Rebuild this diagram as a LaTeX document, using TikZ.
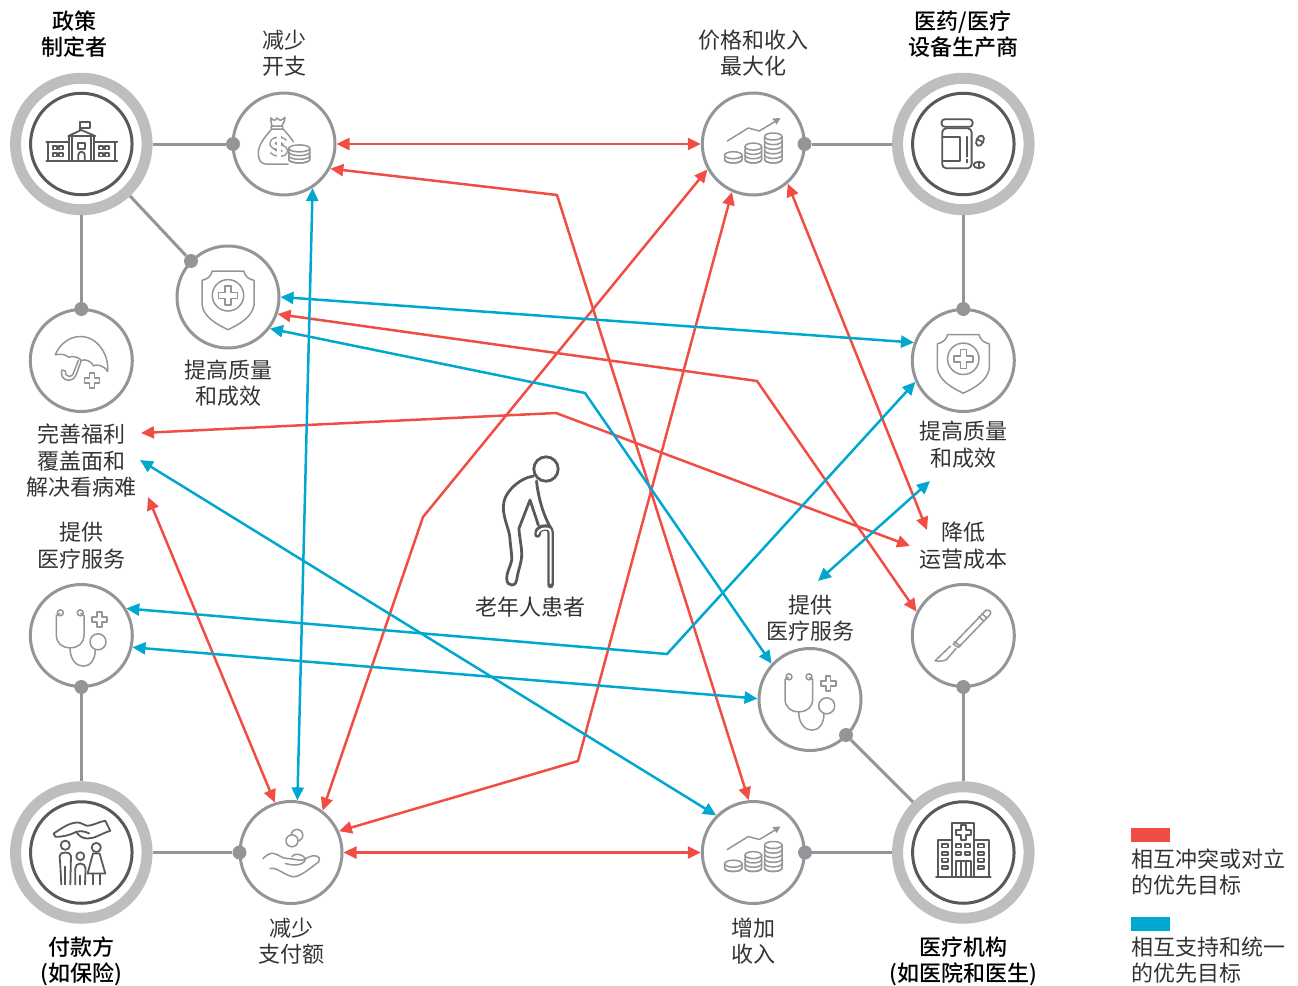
\documentclass[tikz,border=0pt]{standalone}
\usepackage{fontspec}
\setmainfont[BoldFont={Noto Sans CJK SC Medium}]{Noto Sans CJK SC}
\usetikzlibrary{arrows.meta,calc}
\definecolor{ringgrey}{HTML}{BCBEC0}
\definecolor{edgegrey}{HTML}{939598}
\definecolor{darkgrey}{HTML}{58595B}
\definecolor{inkgrey}{HTML}{333333}
\definecolor{conflictred}{HTML}{F04E45}
\definecolor{supportblue}{HTML}{00A7CF}
\tikzset{
  party/.style={circle,draw=ringgrey,line width=11pt,minimum size=131.5pt,inner sep=0pt},
  partycore/.style={circle,draw=darkgrey,line width=3pt,minimum size=101.5pt,inner sep=0pt},
  goal/.style={circle,draw=edgegrey,line width=3pt,minimum size=102pt,inner sep=0pt},
  joint/.style={circle,fill=edgegrey,minimum size=14pt,inner sep=0pt},
  link/.style={draw=edgegrey,line width=3pt},
  lbl/.style={align=center,inner sep=0pt,text=inkgrey,font=\fontsize{22}{26.5}\selectfont},
  boldlbl/.style={lbl,text=black,font=\fontsize{22}{26.5}\selectfont\bfseries},
  legendlbl/.style={lbl,align=left,anchor=west},
  conflict/.style={draw=conflictred,line width=2.5pt,{Triangle[length=13pt,width=12pt]}-{Triangle[length=13pt,width=12pt]}},
  support/.style={draw=supportblue,line width=2.5pt,{Triangle[length=13pt,width=12pt]}-{Triangle[length=13pt,width=12pt]}},
  lighticon/.style={draw=edgegrey,line width=1.5pt,line join=round,line cap=round},
  darkicon/.style={draw=darkgrey,line width=1.8pt,line join=round,line cap=round},
}
% a stack of coins: x, centre height of lowest coin, number of tiers, tier height, x radius
\newcommand{\coinstack}[5]{%
  \pgfmathsetmacro{\ctop}{#2-#3*#4}
  \fill[white] (#1-#5,#2) -- (#1-#5,\ctop) -- (#1+#5,\ctop) -- (#1+#5,#2) arc[start angle=0,end angle=180,x radius=#5,y radius=3.5] -- cycle;
  \draw (#1-#5,\ctop) -- (#1-#5,#2) arc[start angle=180,end angle=0,x radius=#5,y radius=3.5] -- (#1+#5,\ctop);
  \foreach \tier in {1,...,#3} {
    \pgfmathsetmacro{\cy}{#2-(\tier-1)*#4}
    \draw (#1-#5,\cy) arc[start angle=180,end angle=0,x radius=#5,y radius=3.5];
  }
  \draw[fill=white] (#1,\ctop) ellipse[x radius=#5,y radius=3.5];
}
% outlined plus sign: centre x, centre y, half arm length, half arm width
\newcommand{\plusmark}[4]{%
  \draw (#1-#4,#2-#3) -- (#1+#4,#2-#3) -- (#1+#4,#2-#4) -- (#1+#3,#2-#4) -- (#1+#3,#2+#4) -- (#1+#4,#2+#4) -- (#1+#4,#2+#3) -- (#1-#4,#2+#3) -- (#1-#4,#2+#4) -- (#1-#3,#2+#4) -- (#1-#3,#2-#4) -- (#1-#4,#2-#4) -- cycle;
}
% rising chart over three coin stacks
\newcommand{\growthicon}{%
  \coinstack{-20}{15.5}{1}{4.3}{8.7}
  \coinstack{0}{15.5}{3}{4.3}{8.3}
  \coinstack{20}{15.5}{5}{4.6}{8.7}
  \draw (-26,-3) -- (-5,-16) -- (6,-13) -- (26,-25);
  \fill[edgegrey] (27,-26) -- (19,-25.5) -- (23.5,-19.5) -- cycle;
}
\newcommand{\shieldicon}{%
  \draw (-15.7,-26) -- (15.7,-26) .. controls (16.5,-21) and (21,-17.5) .. (26,-16.7) -- (26,8)
    .. controls (24,20) and (12,27) .. (0,32.7) .. controls (-12,27) and (-24,20) .. (-26,8) -- (-26,-16.7)
    .. controls (-21,-17.5) and (-16.5,-21) .. cycle;
  \draw (0,-1.7) circle[radius=15.7];
  \plusmark{0}{-1.7}{9.5}{3}
}
\newcommand{\stethoicon}{%
  \draw (-21,-22.7) circle[radius=3];
  \draw (-1,-22.7) circle[radius=3];
  \draw (-21.5,-22) -- (-25,-20) -- (-25,-1) .. controls (-25,8) and (-19,12.3) .. (-11.3,12.3)
    .. controls (-3,12.3) and (2.7,8) .. (2.7,-1) -- (2.7,-20) -- (-0.5,-22);
  \draw (-11.3,12.3) .. controls (-11.3,24) and (-5,30.7) .. (2,30.7) .. controls (9,30.7) and (14,24) .. (14,14.3);
  \draw (16.7,6.3) circle[radius=8];
  \plusmark{18.3}{-16}{7.5}{2.4}
}
\begin{document}
\begin{tikzpicture}[x=1pt,y=-1pt]
\useasboundingbox (0,0) rectangle (1298,985);

% stakeholder rings
\node[party] (policy) at (81.3,144) {};
\node[partycore] (policycore) at (81.3,144) {};
\node[party] (pharma) at (963.3,144) {};
\node[partycore] (pharmacore) at (963.3,144) {};
\node[party] (payer) at (81.3,852.5) {};
\node[partycore] (payercore) at (81.3,852.5) {};
\node[party] (provider) at (963.3,852.5) {};
\node[partycore] (providercore) at (963.3,852.5) {};

% goal circles
\node[goal] (spend) at (284,144) {};
\node[goal] (maxrev) at (753.3,144) {};
\node[goal] (qualityL) at (228,297) {};
\node[goal] (coverage) at (81.3,360.5) {};
\node[goal] (careL) at (81.3,635.5) {};
\node[goal] (paycut) at (291,852.5) {};
\node[goal] (income) at (753.3,852.5) {};
\node[goal] (qualityR) at (963.3,360.5) {};
\node[goal] (scalpel) at (963.3,635.5) {};
\node[goal] (careR) at (810,699.5) {};

% joints on the goal circles
\node[joint] (jspend) at (233,144) {};
\node[joint] (jmaxrev) at (804.5,144) {};
\node[joint] (jqualityL) at (191,261) {};
\node[joint] (jcoverage) at (81.3,309) {};
\node[joint] (jqualityR) at (963.3,309) {};
\node[joint] (jcareL) at (81.3,687) {};
\node[joint] (jscalpel) at (963.3,687) {};
\node[joint] (jcareR) at (846,735) {};
\node[joint] (jpaycut) at (239.5,852.5) {};
\node[joint] (jincome) at (805,852.5) {};

% links from each stakeholder to its goals
\draw[link] (policy) -- (jspend);
\draw[link] (policy) -- (jqualityL);
\draw[link] (policy) -- (jcoverage);
\draw[link] (pharma) -- (jmaxrev);
\draw[link] (pharma) -- (jqualityR);
\draw[link] (payer) -- (jcareL);
\draw[link] (payer) -- (jpaycut);
\draw[link] (provider) -- (jincome);
\draw[link] (provider) -- (jscalpel);
\draw[link] (provider) -- (jcareR);

% labels
\node[boldlbl] (tpolicy) at (74,34) {政策\\制定者};
\node[boldlbl] (tpharma) at (963,34) {医药/医疗\\设备生产商};
\node[boldlbl] (tpayer) at (81,961.5) {付款方\\(如保险)};
\node[boldlbl] (tprovider) at (963,961.5) {医疗机构\\(如医院和医生)};
\node[lbl] (tspend) at (284,53) {减少\\开支};
\node[lbl] (tmaxrev) at (753.5,53) {价格和收入\\最大化};
\node[lbl] (tqualityL) at (228,383) {提高质量\\和成效};
\node[lbl] (tcoverage) at (81.5,461) {完善福利\\覆盖面和\\解决看病难};
\node[lbl] (tcareL) at (81.5,545.5) {提供\\医疗服务};
\node[lbl] (tpatient) at (530,607) {老年人患者};
\node[lbl] (tcareR) at (810.5,618) {提供\\医疗服务};
\node[lbl] (tqualityR) at (963.5,444.5) {提高质量\\和成效};
\node[lbl] (tcost) at (963.5,545.5) {降低\\运营成本};
\node[lbl] (tpaycut) at (291.5,941) {减少\\支付额};
\node[lbl] (tincome) at (753.5,941) {增加\\收入};

% legend
\node[fill=conflictred,minimum width=39pt,minimum height=14pt,inner sep=0pt,anchor=north west] (keyred) at (1131,828) {};
\node[fill=supportblue,minimum width=39pt,minimum height=14pt,inner sep=0pt,anchor=north west] (keyblue) at (1131,917) {};
\node[legendlbl] (tkeyred) at (1131,872) {相互冲突或对立\\的优先目标};
\node[legendlbl] (tkeyblue) at (1131,960) {相互支持和统一\\的优先目标};

% free ends beside the text labels
\coordinate (costA) at (927,530);
\coordinate (costB) at (910,546);
\coordinate (covA) at (141,433);
\coordinate (covB) at (140,460);
\coordinate (covC) at (148,497);
\coordinate (qualBelow) at (930,481);
\coordinate (careAbove) at (818,581);

% bends
\coordinate (b1) at (557,195);
\coordinate (b2) at (423,517);
\coordinate (b3) at (578,761);
\coordinate (b4) at (757,381);
\coordinate (b5) at (556,413);
\coordinate (b6) at (585,393);
\coordinate (b7) at (667,654);

% conflicting priorities
\draw[conflict] (spend.east) -- (maxrev.west);
\draw[conflict] (spend.-28.4) -- (b1) -- (income.95.4);
\draw[conflict] (maxrev.209.9) -- (b2) -- (paycut.53.3);
\draw[conflict] (maxrev.246) -- (b3) -- (paycut.24.2);
\draw[conflict] (maxrev.-49.4) -- (costA);
\draw[conflict] (qualityL.-19.8) -- (b4) -- (scalpel.153.4);
\draw[conflict] (covA) -- (b5) -- (costB);
\draw[conflict] (covC) -- (paycut.108.4);
\draw[conflict] (paycut.east) -- (income.west);

% aligned priorities
\draw[support] (spend.-57.2) -- (paycut.83.5);
\draw[support] (qualityL.east) -- (qualityR.160.2);
\draw[support] (qualityL.-37.5) -- (b6) -- (careR.137.2);
\draw[support] (careL.31.3) -- (b7) -- (qualityR.204.2);
\draw[support] (careL.-13.8) -- (careR.179);
\draw[support] (covB) -- (income.135);
\draw[support] (careAbove) -- (qualBelow);

% government building
\begin{scope}[shift={(81.3,144)},darkicon]
  \draw (-1,-14) -- (-1,-22) -- (9,-22) -- (9,-16) -- (-1,-16);
  \draw (-13,-8) -- (0,-14) -- (14,-8) -- cycle;
  \draw (-12,-8) -- (-12,17);
  \draw (13,-8) -- (13,17);
  \draw (-9,-7) -- (-9,17);
  \draw (10,-7) -- (10,17);
  \draw (-35,-2) -- (-12,-2);
  \draw (13,-2) -- (36,-2);
  \draw (-33,-2) -- (-33,17);
  \draw (34,-2) -- (34,17);
  \draw (-35,17) -- (36,17);
  \foreach \wx/\wy in {-28/2,-22/2,-28/9,-22/9,18/2,24/2,18/9,24/9}
    \draw (\wx,\wy) rectangle ++(4,3.5);
  \draw (-3,-1) rectangle (3.5,5);
  \draw (-3,17) -- (-3,11) arc[start angle=180,end angle=360,radius=3.25] -- (3.5,17);
\end{scope}

% money bag and coins
\begin{scope}[shift={(284,144)},lighticon]
  \draw (-13.3,-26) .. controls (-10,-23) and (-9,-23) .. (-7,-26) .. controls (-4,-23) and (-3,-23) .. (1,-26.7)
    .. controls (1,-23) and (-1,-20) .. (-2.3,-18) -- (-12,-18) .. controls (-13,-21) and (-13,-23) .. (-13.3,-26);
  \draw (-13,-18) -- (-12.5,-15) -- (-1.5,-15) -- (-1.5,-18);
  \draw (-12.3,-15) .. controls (-18,-8) and (-25.7,0) .. (-25.7,9) .. controls (-25.7,16) and (-23,20) .. (-18,20) -- (4,20);
  \draw (-1,-15) .. controls (3,-11) and (7,-6) .. (9.3,-2.3);
  \draw[line width=5pt,line cap=butt] (-5,-8) -- (-5,13);
  \draw[line width=6.5pt,line cap=butt] (1,-1.5) .. controls (-1,-5) and (-11,-5.5) .. (-11.5,-1) .. controls (-12,5) and (1.5,1.5) .. (1,7.5) .. controls (0.5,11) and (-10,10.5) .. (-12,6.5);
  \draw[white,line width=3.5pt,line cap=butt] (-5,-9) -- (-5,14);
  \draw[white,line width=3.5pt,line cap=butt] (1,-1.5) .. controls (-1,-5) and (-11,-5.5) .. (-11.5,-1) .. controls (-12,5) and (1.5,1.5) .. (1,7.5) .. controls (0.5,11) and (-10,10.5) .. (-12,6.5);
  \coinstack{15.3}{15.5}{3}{3.7}{10.5}
\end{scope}

% charts of rising revenue
\begin{scope}[shift={(753.3,144)},lighticon] \growthicon \end{scope}
\begin{scope}[shift={(753.3,852.5)},lighticon] \growthicon \end{scope}

% medicine bottle and pills
\begin{scope}[shift={(963.3,144)},darkicon]
  \draw[rounded corners=3pt] (-21.7,-24.7) rectangle (9.3,-17.3);
  \draw[rounded corners=4pt] (-21,-15.7) rectangle (8.3,24.3);
  \draw (-21,-7.3) -- (-3.3,-7.3) -- (-3.3,16.7) -- (-21,16.7);
  \draw (4,-7.3) -- (4,12.7);
  \draw (4,15.5) -- (4,18.5);
  \draw[rotate around={65:(16.7,-3.3)}] (16.7,-3.3) ellipse[x radius=5.5,y radius=3.5];
  \draw (15.7,21) ellipse[x radius=5.5,y radius=3.2];
  \draw (15.7,18) -- (15.7,24);
  \draw[rotate around={65:(16.7,-3.3)}] (16.7,-6.5) -- (16.7,0);
\end{scope}

% shields
\begin{scope}[shift={(228,297)},lighticon] \shieldicon \end{scope}
\begin{scope}[shift={(963.3,360.5)},lighticon] \shieldicon \end{scope}

% umbrella
\begin{scope}[shift={(81.3,360.5)},lighticon]
  \draw (-26,-5.7) .. controls (-22,-16) and (-12,-24) .. (-1,-24) .. controls (16,-24) and (28,-6) .. (26.3,11)
    .. controls (24,6) and (16,3) .. (12.3,5.3) .. controls (10,1) and (4,-2) .. (0,0) .. controls (-2,-3) and (-8,-5) .. (-12.7,-3.3) .. controls (-15,-6) and (-22,-7) .. (-26,-5.7);
  \draw (0,0) -- (-5,14) .. controls (-7,20) and (-13,20.5) .. (-16,19) .. controls (-20,17) and (-20.5,12) .. (-19.3,9.5) -- (-16,10.5) .. controls (-16.5,13) and (-15,16) .. (-12,16) .. controls (-10,16) and (-8.5,14.5) .. (-8,13) -- (-3,0);
  \plusmark{10.7}{20}{7.3}{2.4}
\end{scope}

% stethoscopes
\begin{scope}[shift={(81.3,635.5)},lighticon] \stethoicon \end{scope}
\begin{scope}[shift={(810,699.5)},lighticon] \stethoicon \end{scope}

% scalpel
\begin{scope}[shift={(963.3,635.5)},lighticon]
  \draw (22.7,-25.3) .. controls (25,-26.5) and (28,-25) .. (27.3,-21.5) -- (-5,12) -- (-10,8.7) -- cycle;
  \draw (15.5,-19) -- (20.5,-14.5);
  \draw (18.5,-22) -- (23,-18);
  \draw (-9,6) -- (-3,10.5);
  \draw (-13,10.7) -- (-28.3,25.3) .. controls (-24,26) and (-19,25.5) .. (-16.7,24) -- (-7.3,13);
\end{scope}

% family under a sheltering hand
\begin{scope}[shift={(81.3,852.5)},darkicon]
  \draw (-27.7,-19) .. controls (-20,-24) and (-12,-30) .. (-3.7,-30) .. controls (0,-30) and (3,-27) .. (6.3,-26.7) .. controls (12,-27) and (18,-31) .. (24,-31.7) -- (29,-21.7) .. controls (20,-19) and (14,-14) .. (6.3,-14) .. controls (1,-14) and (-3,-17) .. (-5,-20.7) .. controls (-12,-17) and (-20,-15.5) .. (-26,-15.7) -- cycle;
  \draw (-5,-20.7) .. controls (0,-22) and (4,-21) .. (8,-19);
  \draw (-16,-7.3) circle[radius=4.6];
  \draw (-20,32) -- (-21,12.7) -- (-21.7,3.5) .. controls (-21.7,1) and (-19,0) .. (-16,0) .. controls (-13,0) and (-10.3,1) .. (-10.3,3.5) -- (-11,32);
  \draw (-16,14) -- (-16,32);
  \draw (-1,3.7) circle[radius=4];
  \draw (-6,32) -- (-6,16) .. controls (-6,13) and (-4,11) .. (-1,11) .. controls (2,11) and (4.3,13) .. (4.3,16) -- (3.7,32);
  \draw (-1,23) -- (-1,32);
  \draw (15,-5) circle[radius=4.6];
  \draw (11.7,1) -- (18.3,1) -- (24,21) -- (6.3,21) -- cycle;
  \draw (11.7,21) -- (11.7,32);
  \draw (18.3,21) -- (18.3,32);
\end{scope}

% open hand with coins
\begin{scope}[shift={(291,852.5)},lighticon]
  \draw (6,-17.3) circle[radius=5.8];
  \draw[fill=white] (1,-11.7) circle[radius=6];
  \draw (-28,6) .. controls (-24,2) and (-20,0) .. (-17.3,1) .. controls (-12,2) and (-9,6) .. (-4,6) .. controls (1,6) and (8,8) .. (11,7.7) .. controls (16,6) and (21,1.5) .. (26,3.7) .. controls (29,5) and (29,8) .. (27.7,9.3) .. controls (20,15) and (10,24) .. (2.7,24.3) .. controls (-3,24) and (-9,19) .. (-14,17) .. controls (-17,15.5) and (-19,15.5) .. (-21,16);
  \draw (-5.7,11) .. controls (1,13) and (7,13) .. (11,11) .. controls (15,8) and (16,6) .. (11,3) .. controls (7,1) and (3,1.5) .. (1,4);
\end{scope}

% hospital
\begin{scope}[shift={(963.3,852.5)},darkicon]
  \draw (-11,24.3) -- (-11,-29.7) -- (11,-29.7) -- (11,24.3);
  \draw (-11,-12.3) -- (-25.7,-12.3) -- (-25.7,24.3);
  \draw (11,-12.3) -- (25.7,-12.3) -- (25.7,24.3);
  \draw (-27.3,24.3) -- (27.3,24.3);
  \plusmark{0}{-19.7}{7.5}{2.5}
  \foreach \wy in {-6.7,1,7.7,15} {
    \draw (-21,\wy-1.7) rectangle (-15,\wy+1.7);
    \draw (15,\wy-1.7) rectangle (21,\wy+1.7);
  }
  \foreach \wy in {-6.7,1} {
    \draw (-7,\wy-1.7) rectangle (-2,\wy+1.7);
    \draw (2,\wy-1.7) rectangle (7,\wy+1.7);
  }
  \draw (-7.3,24.3) -- (-7.3,8.3) -- (7.3,8.3) -- (7.3,24.3);
  \draw (-2.5,8.3) -- (-2.5,24.3);
  \draw (2.5,8.3) -- (2.5,24.3);
\end{scope}

% elderly patient with a cane
\begin{scope}[draw=darkgrey,line width=2.8pt,line join=round,line cap=round]
  \draw[darkgrey] (546,469) circle[radius=12.2];
  \draw[darkgrey] (533.5,476) .. controls (520,478) and (503.3,492) .. (503.3,506.7) .. controls (503.3,520) and (510,530) .. (510,540)
     .. controls (511,550) and (512,556) .. (511.7,560) .. controls (510,568) and (506.7,572) .. (506.7,578.3) .. controls (506.7,583) and (509,585) .. (511.7,585) .. controls (515,585) and (516.7,582) .. (516.7,580)
     .. controls (518,570) and (522,562) .. (521.7,553.3) .. controls (521.5,545) and (519,535) .. (519,528.3) -- (530,500) -- (538.3,525);
  \draw[darkgrey] (536.5,481) .. controls (538,495) and (542,512) .. (550,526.7);
  \draw[darkgrey,line width=6.5pt] (550.5,585) -- (550.5,532) .. controls (550.5,527) and (546,527) .. (542,528) .. controls (538.5,529) and (537,532) .. (537.5,534.5);
  \draw[white,line width=2pt] (550.5,583) -- (550.5,532) .. controls (550.5,528) and (546,528) .. (542,529) .. controls (539,530) and (537.5,532) .. (537.5,534);
\end{scope}
\end{tikzpicture}
\end{document}
